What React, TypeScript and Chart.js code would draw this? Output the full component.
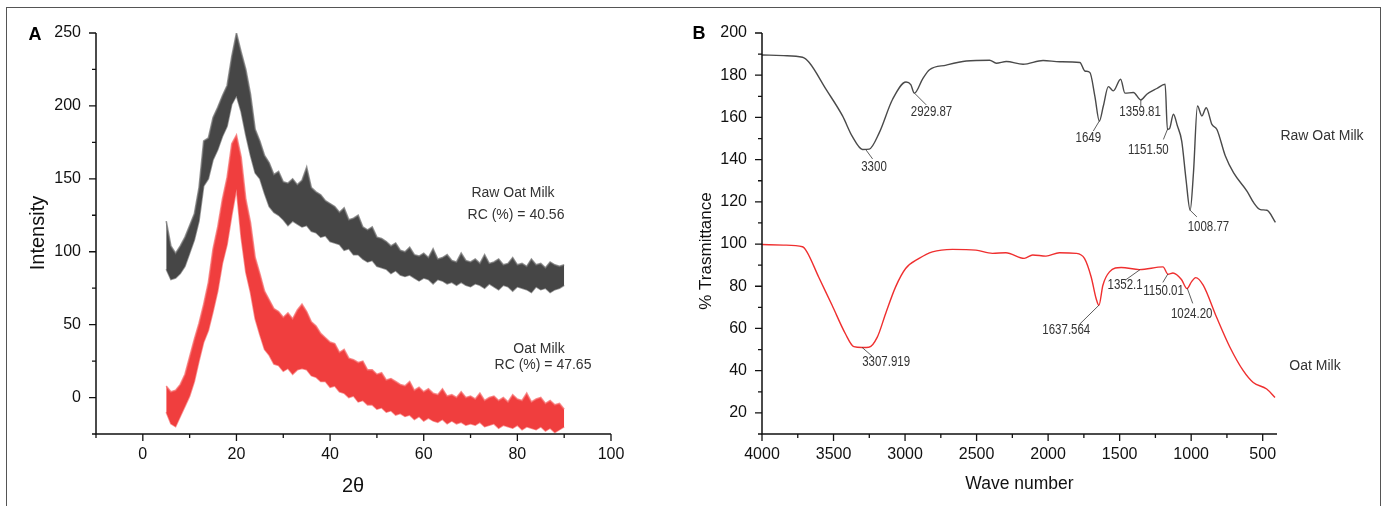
import React, { useEffect, useRef } from "react";
import { Chart, registerables } from "chart.js";

Chart.register(...registerables);

const FONT = "'Liberation Sans', Arial, Helvetica, sans-serif";

// ---------------- Panel A : XRD ----------------
const XRD_ANGLE = [
  5, 6, 7, 8, 9, 10, 11, 12, 13, 14, 15, 16, 17, 18, 19, 20, 21, 22, 23, 24, 25, 26, 27, 28, 29, 30,
  31, 32, 33, 34, 35, 36, 37, 38, 39, 40, 41, 42, 43, 44, 45, 46, 47, 48, 49, 50, 51, 52, 53, 54, 55,
  56, 57, 58, 59, 60, 61, 62, 63, 64, 65, 66, 67, 68, 69, 70, 71, 72, 73, 74, 75, 76, 77, 78, 79, 80,
  81, 82, 83, 84, 85, 86, 87, 88, 89, 90,
];
const RAW_UPPER = [
  121, 104, 99, 104, 110, 118, 126, 144, 176, 178, 192, 199, 207, 214, 234, 250, 237, 225, 208, 184,
  176, 166, 161, 153, 155, 148, 147, 150, 146, 149, 158, 144, 141, 139, 135, 133, 131, 127, 130, 122,
  123, 125, 117, 115, 117, 110, 109, 107, 104, 106, 101, 100, 103, 98, 97, 99, 96, 102, 95, 96, 98, 94,
  93, 99, 94, 93, 95, 92, 98, 92, 93, 95, 91, 92, 96, 91, 92, 90, 95, 91, 92, 89, 93, 91, 90, 91,
];
const RAW_LOWER = [
  88, 81, 82, 85, 90, 99, 108, 121, 145, 150, 163, 170, 179, 186, 201, 207, 196, 180, 166, 154, 150,
  140, 131, 127, 125, 122, 118, 121, 119, 117, 118, 114, 113, 110, 111, 107, 106, 105, 101, 102, 98, 98,
  95, 93, 94, 90, 89, 88, 85, 87, 84, 83, 84, 82, 80, 82, 81, 78, 81, 80, 78, 79, 77, 79, 77, 76, 78,
  77, 75, 78, 76, 74, 77, 76, 73, 76, 75, 74, 72, 76, 74, 75, 72, 74, 75, 77,
];
const OAT_UPPER = [
  8, 4, 5, 9, 16, 28, 40, 51, 64, 79, 102, 117, 136, 151, 174, 180, 165, 136, 120, 96, 85, 73, 67, 61,
  59, 55, 58, 54, 60, 64, 59, 52, 49, 44, 41, 38, 37, 31, 33, 27, 26, 24, 25, 19, 19, 16, 17, 12, 13, 11,
  9, 8, 11, 5, 7, 4, 6, 3, 2, 6, 1, 2, 0, 4, 0, 1, -1, 3, -2, 0, 1, -2, 0, -3, 2, -1, -2, 3, -3, -1, 0,
  -4, -2, -5, -4, -8,
];
const OAT_LOWER = [
  -10, -18, -20, -13, -6, 1, 11, 25, 38, 46, 59, 73, 92, 105, 125, 143, 110, 86, 72, 54, 43, 33, 29, 23,
  22, 18, 20, 16, 19, 20, 19, 15, 14, 11, 11, 7, 8, 4, 3, 0, 1, -3, -2, -5, -5, -8, -7, -10, -9, -12, -11,
  -13, -12, -15, -13, -16, -14, -16, -17, -15, -18, -16, -18, -17, -19, -18, -19, -17, -20, -19, -18,
  -21, -19, -20, -21, -19, -22, -20, -21, -22, -20, -23, -21, -24, -22, -20,
];
const XRD_X_TICKS = [0, 20, 40, 60, 80, 100];
const XRD_X_MINOR = [-10, 10, 30, 50, 70, 90];
const XRD_Y_TICKS = [0, 50, 100, 150, 200, 250];
const XRD_Y_MINOR = [-25, 25, 75, 125, 175, 225];

// ---------------- Panel B : FTIR ----------------
const RAW_WN = [
  4000, 3850, 3717, 3670, 3553, 3437, 3369, 3297, 3250, 3180, 3087, 2993, 2960, 2935, 2876, 2829, 2712,
  2572, 2409, 2362, 2292, 2175, 2035, 1918, 1778, 1743, 1708, 1673, 1642, 1614, 1579, 1544, 1493, 1463,
  1404, 1352, 1310, 1240, 1182, 1166, 1152, 1124, 1096, 1066, 1036, 1007, 984, 956, 925, 895, 855, 820,
  761, 703, 609, 562, 516, 470, 411,
];
const RAW_T = [
  189.6, 189.3, 188.5, 186, 173.4, 160.7, 151, 144.8, 145, 152.8, 168.6, 176.8, 175.5, 171.5, 178.4,
  182.6, 184.8, 186.7, 187.1, 185.7, 186.5, 185.2, 187, 186.4, 186, 182, 181.3, 170, 158.3, 165.4, 174.6,
  172.6, 178.1, 171.5, 171.8, 168.3, 171, 173.7, 175.7, 154.3, 154.6, 161.5, 155.9, 148.8, 130.6, 116,
  133.7, 165.4, 160.7, 164.6, 156.7, 154.3, 141.7, 133.7, 125, 119.5, 116.3, 116, 110.3,
];
const OAT_WN = [
  4000, 3850, 3717, 3686, 3604, 3510, 3417, 3358, 3300, 3253, 3194, 3136, 3066, 2996, 2902, 2809, 2669,
  2505, 2389, 2295, 2167, 2108, 2015, 1921, 1804, 1746, 1699, 1664, 1645, 1617, 1571, 1489, 1360, 1197,
  1162, 1127, 1068, 1029, 998, 968, 916, 823, 729, 636, 566, 472, 414,
];
const OAT_T = [
  99.8, 99.5, 98.7, 96.3, 84.4, 71, 57.5, 51.4, 51.0, 51.1, 55.9, 67, 79.7, 88.4, 93.2, 96.3, 97.5, 97.1,
  95.6, 95.9, 93.2, 94.8, 94.3, 95.9, 95.6, 93.2, 84.4, 74.1, 71, 80.5, 86.8, 88.9, 87.9, 89.2, 85.7,
  86.3, 83.2, 78.9, 82.1, 84.1, 80.5, 65.4, 51.1, 40, 34.4, 31.3, 27.3,
];
const FTIR_X_TICKS = [500, 1000, 1500, 2000, 2500, 3000, 3500, 4000];
const FTIR_X_MINOR = [750, 1250, 1750, 2250, 2750, 3250, 3750];
const FTIR_Y_TICKS = [20, 40, 60, 80, 100, 120, 140, 160, 180, 200];
const FTIR_Y_MINOR = [10, 30, 50, 70, 90, 110, 130, 150, 170, 190];

// peak annotations
const RAW_PEAK_LABEL = ["3300", "2929.87", "1649", "1359.81", "1151.50", "1008.77"];
const RAW_PEAK_WN = [3273, 2934, 1642, 1352, 1166, 1007];
const RAW_PEAK_T = [144.6, 171.5, 158.3, 168.3, 154.3, 116];
const OAT_PEAK_LABEL = ["3307.919", "1637.564", "1352.1", "1150.01", "1024.20"];
const OAT_PEAK_WN = [3300, 1645, 1357, 1163, 1027];
const OAT_PEAK_T = [51.0, 71, 87.9, 85.8, 79];

// leader layout (px): line end dx, dy, label centre dx, dy
const RAW_PEAK_LAYOUT = [
  [6.6, 9, 8, 17],
  [11.7, 11.7, 17, 19],
  [-6, 10, -11, 17.4],
  [0, 6.6, -0.7, 12.3],
  [-4, 10, -19, 21],
  [6.7, 6.6, 18.3, 16.6],
];
const OAT_PEAK_LAYOUT = [
  [10, 8.7, 24, 14.7],
  [-19.3, 19, -32.6, 25],
  [-15, 10.7, -15, 15.7],
  [-5, 8.4, -4.3, 16.7],
  [5.4, 15, 4.4, 25.7],
];

function toPoints(xs: number[], ys: number[]) {
  return xs.map((x, i) => ({ x, y: ys[i] }));
}

function axesPlugin(xMajor: number[], xMinor: number[], yMajor: number[], yMinor: number[]) {
  return {
    id: "originAxes",
    afterDatasetsDraw(chart: any) {
      const { ctx, chartArea: ca, scales } = chart;
      const x = scales.x;
      const y = scales.y;
      ctx.save();
      ctx.strokeStyle = "#111";
      ctx.lineWidth = 1.5;
      ctx.beginPath();
      ctx.moveTo(ca.left, ca.top);
      ctx.lineTo(ca.left, ca.bottom);
      ctx.lineTo(ca.right, ca.bottom);
      ctx.stroke();
      ctx.lineWidth = 1.3;
      ctx.beginPath();
      xMajor.forEach((v) => {
        const p = x.getPixelForValue(v);
        ctx.moveTo(p, ca.bottom);
        ctx.lineTo(p, ca.bottom + 7);
      });
      xMinor.forEach((v) => {
        const p = x.getPixelForValue(v);
        ctx.moveTo(p, ca.bottom);
        ctx.lineTo(p, ca.bottom + 4);
      });
      yMajor.forEach((v) => {
        const p = y.getPixelForValue(v);
        ctx.moveTo(ca.left, p);
        ctx.lineTo(ca.left - 7, p);
      });
      yMinor.forEach((v) => {
        const p = y.getPixelForValue(v);
        ctx.moveTo(ca.left, p);
        ctx.lineTo(ca.left - 4, p);
      });
      ctx.stroke();
      ctx.restore();
    },
  };
}

function drawText(ctx: any, text: string, x: number, y: number, font: string, color: string, rot = 0, sx = 1) {
  ctx.save();
  ctx.translate(x, y);
  if (rot) ctx.rotate(rot);
  if (sx !== 1) ctx.scale(sx, 1);
  ctx.font = font;
  ctx.fillStyle = color;
  ctx.textAlign = "center";
  ctx.textBaseline = "middle";
  ctx.fillText(text, 0, 0);
  ctx.restore();
}

const textA = {
  id: "textA",
  afterDraw(chart: any) {
    const ctx = chart.ctx;
    drawText(ctx, "A", 35, 35, `bold 18px ${FONT}`, "#000");
    drawText(ctx, "Intensity", 38, 233, `20px ${FONT}`, "#111", -Math.PI / 2);
    drawText(ctx, "2θ", 353, 486, `20px ${FONT}`, "#111");
    drawText(ctx, "Raw Oat Milk", 513, 193, `14px ${FONT}`, "#333");
    drawText(ctx, "RC (%) = 40.56", 516, 215, `14px ${FONT}`, "#333");
    drawText(ctx, "Oat Milk", 539, 349, `14px ${FONT}`, "#333");
    drawText(ctx, "RC (%) = 47.65", 543, 365, `14px ${FONT}`, "#333");
  },
};

function drawPeaks(chart: any, labels: string[], wn: number[], t: number[], layout: number[][]) {
  const { ctx, scales } = chart;
  labels.forEach((lab, i) => {
    const px = scales.x.getPixelForValue(wn[i]);
    const py = scales.y.getPixelForValue(t[i]);
    const [ex, ey, tx, ty] = layout[i];
    ctx.save();
    ctx.strokeStyle = "#333";
    ctx.lineWidth = 0.8;
    ctx.beginPath();
    ctx.moveTo(px, py);
    ctx.lineTo(px + ex, py + ey);
    ctx.stroke();
    ctx.restore();
    drawText(ctx, lab, px + tx, py + ty, `14px ${FONT}`, "#333", 0, 0.82);
  });
}

const textB = {
  id: "textB",
  afterDraw(chart: any) {
    const ctx = chart.ctx;
    drawText(ctx, "B", 9, 34.5, `bold 18px ${FONT}`, "#000");
    drawText(ctx, "% Trasmittance", 16, 251, `17px ${FONT}`, "#111", -Math.PI / 2);
    drawText(ctx, "Wave number", 329.5, 484, `17.5px ${FONT}`, "#111");
    drawText(ctx, "Raw Oat Milk", 632, 136, `14px ${FONT}`, "#333");
    drawText(ctx, "Oat Milk", 625, 366, `14px ${FONT}`, "#333");
    drawPeaks(chart, RAW_PEAK_LABEL, RAW_PEAK_WN, RAW_PEAK_T, RAW_PEAK_LAYOUT);
    drawPeaks(chart, OAT_PEAK_LABEL, OAT_PEAK_WN, OAT_PEAK_T, OAT_PEAK_LAYOUT);
  },
};

function axisCfg(min: number, max: number, ticks: number[], horizontal: boolean, reverse = false) {
  return {
    type: "linear",
    min,
    max,
    reverse,
    afterBuildTicks: (s: any) => {
      s.ticks = ticks.map((v) => ({ value: v }));
    },
    afterFit: (s: any) => {
      if (horizontal) s.height = 50;
      else s.width = 60;
    },
    grid: { display: false, drawTicks: true, tickLength: 7 },
    border: { display: false },
    ticks: {
      font: { family: FONT, size: 16 },
      color: "#111",
      padding: horizontal ? 4 : 8,
      maxRotation: 0,
      autoSkip: false,
      callback: (v: any) => String(v),
    },
  };
}

function bandSet(values: number[], edge: string, fillColor: string | null) {
  return {
    data: toPoints(XRD_ANGLE, values),
    borderColor: edge,
    backgroundColor: fillColor || "rgba(0,0,0,0)",
    borderWidth: 1.6,
    fill: fillColor ? "+1" : false,
    pointRadius: 0,
    tension: 0,
  };
}

export default function App() {
  const refA = useRef<HTMLCanvasElement>(null);
  const refB = useRef<HTMLCanvasElement>(null);

  useEffect(() => {
    const chartA = new Chart(refA.current as HTMLCanvasElement, {
      type: "line",
      data: {
        datasets: [
          bandSet(RAW_UPPER, "rgba(115,115,115,0.75)", "rgb(70,70,70)"),
          bandSet(RAW_LOWER, "rgba(115,115,115,0.75)", null),
          bandSet(OAT_UPPER, "rgba(246,110,110,0.75)", "rgb(240,62,62)"),
          bandSet(OAT_LOWER, "rgba(246,110,110,0.75)", null),
        ],
      },
      options: {
        animation: false,
        responsive: false,
        layout: { padding: { left: 36, right: 79, top: 33, bottom: 22 } },
        plugins: { legend: { display: false }, tooltip: { enabled: false } },
        scales: {
          x: axisCfg(-10, 100, XRD_X_TICKS, true) as any,
          y: axisCfg(-25, 250, XRD_Y_TICKS, false) as any,
        },
      },
      plugins: [axesPlugin(XRD_X_TICKS, XRD_X_MINOR, XRD_Y_TICKS, XRD_Y_MINOR), textA],
    } as any);

    const chartB = new Chart(refB.current as HTMLCanvasElement, {
      type: "line",
      data: {
        datasets: [
          {
            data: toPoints(RAW_WN, RAW_T),
            borderColor: "#4a4a4a",
            borderWidth: 1.4,
            fill: false,
            pointRadius: 0,
            cubicInterpolationMode: "monotone",
          },
          {
            data: toPoints(OAT_WN, OAT_T),
            borderColor: "#ef2f2f",
            borderWidth: 1.4,
            fill: false,
            pointRadius: 0,
            cubicInterpolationMode: "monotone",
          },
        ],
      },
      options: {
        animation: false,
        responsive: false,
        layout: { padding: { left: 12, right: 107, top: 33, bottom: 22 } },
        plugins: { legend: { display: false }, tooltip: { enabled: false } },
        scales: {
          x: axisCfg(400, 4000, FTIR_X_TICKS, true, true) as any,
          y: axisCfg(10, 200, FTIR_Y_TICKS, false) as any,
        },
      },
      plugins: [axesPlugin(FTIR_X_TICKS, FTIR_X_MINOR, FTIR_Y_TICKS, FTIR_Y_MINOR), textB],
    } as any);

    return () => {
      chartA.destroy();
      chartB.destroy();
    };
  }, []);

  return (
    <div
      style={{
        position: "absolute",
        left: 0,
        top: 0,
        width: 1384,
        height: 506,
        overflow: "hidden",
        background: "#fff",
      }}
    >
      <div
        style={{
          position: "absolute",
          left: 6,
          top: 7,
          width: 1375,
          height: 520,
          border: "1px solid #555",
          boxSizing: "border-box",
        }}
      />
      <canvas ref={refA} width={690} height={506} style={{ position: "absolute", left: 0, top: 0 }} />
      <canvas ref={refB} width={694} height={506} style={{ position: "absolute", left: 690, top: 0 }} />
    </div>
  );
}
